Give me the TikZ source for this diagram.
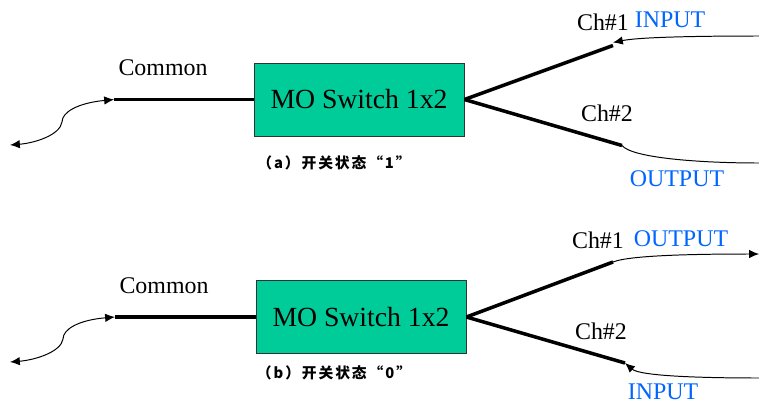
\documentclass[tikz,border=0pt]{standalone}
\usepackage{fontspec}
\setmainfont{Liberation Serif}
\newfontfamily\cjkfont[LetterSpace=13]{Noto Sans CJK SC}
\usetikzlibrary{arrows.meta}

\tikzset{
  switchbox/.style={draw=black!80, line width=0.6pt, fill=switchgreen, minimum width=5.25cm, minimum height=1.825cm, inner sep=0pt, font=\fontsize{19.7}{20}\selectfont},
  label/.style={inner sep=0pt, font=\fontsize{17}{17}\selectfont},
  portlabel/.style={label, text=portblue},
  caption/.style={inner sep=0pt, font=\cjkfont\bfseries\fontsize{10.5}{11}\selectfont},
  fibre/.style={line width=2.5pt},
  pigtail/.style={line width=0.7pt, black, >={Latex[length=7pt,width=6pt]}}
}
\definecolor{switchgreen}{RGB}{0,204,153}
\definecolor{portblue}{RGB}{0,102,255}

\begin{document}
\begin{tikzpicture}[x=0.025cm, y=-0.025cm]
  \useasboundingbox (0,0) rectangle (759,403);

  % upper switch, state 1
  \node[switchbox] (switcha) at (359,99.5) {MO Switch 1x2};
  \coordinate (coma) at (114,99.5); % end of common fibre
  \coordinate (cha) at (613,45.5); % end of channel 1
  \coordinate (chatip) at (613,42.5); % tip on channel 1
  \coordinate (chb) at (622,145.5); % end of channel 2
  \coordinate (taila) at (10,145);
  \coordinate (tailb) at (759,36);
  \coordinate (tailc) at (759,163);

  \draw[fibre] (switcha.west) -- (coma);
  \draw[fibre] (switcha.east) -- (cha);
  \draw[fibre] (switcha.east) -- (chb);
  \draw[pigtail, <->] (coma) .. controls (78,103) and (62,112) .. (62,122)
    .. controls (60,135) and (35,143) .. (taila);
  \draw[pigtail, ->] (tailb) .. controls (700,36) and (640,37) .. (chatip);
  \draw[pigtail] (chb) .. controls (632,158) and (700,163) .. (tailc);

  \node[label] (common1) at (163,68) {Common};
  \node[label] (ch1a) at (603,22) {Ch\#1};
  \node[label] (ch2a) at (607,113) {Ch\#2};
  \node[portlabel] (in1) at (670,20) {INPUT};
  \node[portlabel] (out1) at (677,179) {OUTPUT};
  \node[caption] (capa) at (334,163) {（a）开关状态“1”};

  % lower switch, state 0
  \node[switchbox] (switchb) at (361,317) {MO Switch 1x2};
  \coordinate (comb) at (115,317);
  \coordinate (chc) at (613,262);
  \coordinate (chd) at (625,363);
  \coordinate (taild) at (10,362);
  \coordinate (taile) at (759,254);
  \coordinate (tailf) at (759,378);

  \draw[fibre] (switchb.west) -- (comb);
  \draw[fibre] (switchb.east) -- (chc);
  \draw[fibre] (switchb.east) -- (chd);
  \draw[pigtail, <->] (comb) .. controls (79,320) and (63,329) .. (63,339)
    .. controls (61,352) and (35,360) .. (taild);
  \draw[pigtail, ->] (chc) .. controls (630,255) and (700,254) .. (taile);
  \draw[pigtail, ->] (tailf) .. controls (700,378) and (640,376) .. (chd);

  \node[label] (common2) at (164,286) {Common};
  \node[label] (ch1b) at (598,240) {Ch\#1};
  \node[label] (ch2b) at (601,331) {Ch\#2};
  \node[portlabel] (out2) at (681,239) {OUTPUT};
  \node[portlabel] (in2) at (663,391.5) {INPUT};
  \node[caption] (capb) at (334,373) {（b）开关状态“0”};
\end{tikzpicture}
\end{document}
